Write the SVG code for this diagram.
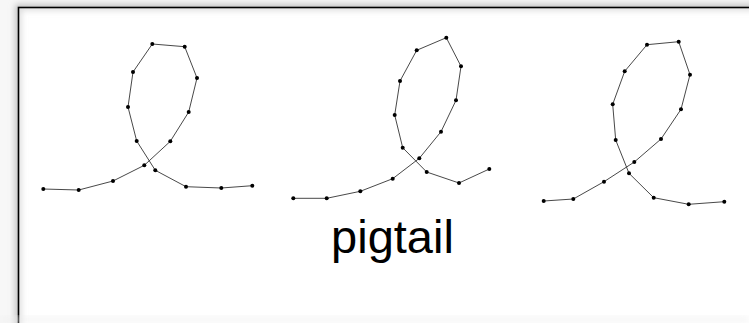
<svg xmlns="http://www.w3.org/2000/svg" width="749" height="323" viewBox="0 0 749 323">
  <defs>
    <filter id="soft" x="-10%" y="-10%" width="120%" height="120%">
      <feGaussianBlur stdDeviation="3"/>
    </filter>
    <style>
      .curve { fill: none; stroke: #333; stroke-width: 0.9; stroke-linejoin: round; }
      .pt { fill: #000; }
      .label { font-family: "Liberation Sans", Arial, sans-serif; font-size: 47px; fill: #000; text-anchor: middle; }
    </style>
  </defs>

  <!-- page backdrop and framed panel -->
  <rect x="0" y="0" width="749" height="323" fill="#f7f7f7"/>
  <rect x="18.5" y="7.5" width="760" height="340" fill="none" stroke="#bbb" stroke-width="6" filter="url(#soft)"/>
  <rect x="18.5" y="7.5" width="760" height="340" fill="#fff"/>
  <rect x="18.5" y="7.5" width="760" height="340" fill="none" stroke="#ccc" stroke-width="4" filter="url(#soft)" clip-path="inset(0)"/>
  <rect x="18.5" y="7.5" width="760" height="340" fill="none" stroke="#000" stroke-width="1.6"/>
  <rect x="0" y="316" width="749" height="7" fill="#eee" opacity="0.5" filter="url(#soft)"/>

  <g id="connectors">
    <polyline class="curve" points="43.3,189 78.7,190 113,181 144.3,165.3 170.3,141.3 188.7,112 197,78 184.7,46.7 152.3,44 133,72 128,107 136.7,141 155.3,170.3 186,186.7 221.3,188 252.3,185.7"/>
    <polyline class="curve" points="293.3,198.3 326.7,198.3 360.3,191.3 392.7,178.7 419.3,158.3 441,131.7 456,100.3 461,66.3 446.3,37.7 416.7,50.3 400,81 394.7,115 402.7,147.7 426.7,172 459,183 489.3,169"/>
    <polyline class="curve" points="543.7,201 573.3,199 604,181.7 634.3,162 661,139 681,109.3 690,74.7 678.7,41.7 647,44.7 624.7,71.3 612.7,104.3 615.7,140 629,173.3 653.7,197.7 688.7,204.3 724.3,201.7"/>
  </g>

  <g id="pigtail-1">
    <circle class="pt" cx="43.3" cy="189" r="2"/><circle class="pt" cx="78.7" cy="190" r="2"/><circle class="pt" cx="113" cy="181" r="2"/><circle class="pt" cx="144.3" cy="165.3" r="2"/><circle class="pt" cx="170.3" cy="141.3" r="2"/><circle class="pt" cx="188.7" cy="112" r="2"/><circle class="pt" cx="197" cy="78" r="2"/><circle class="pt" cx="184.7" cy="46.7" r="2"/><circle class="pt" cx="152.3" cy="44" r="2"/><circle class="pt" cx="133" cy="72" r="2"/><circle class="pt" cx="128" cy="107" r="2"/><circle class="pt" cx="136.7" cy="141" r="2"/><circle class="pt" cx="155.3" cy="170.3" r="2"/><circle class="pt" cx="186" cy="186.7" r="2"/><circle class="pt" cx="221.3" cy="188" r="2"/><circle class="pt" cx="252.3" cy="185.7" r="2"/>
  </g>

  <g id="pigtail-2">
    <circle class="pt" cx="293.3" cy="198.3" r="2"/><circle class="pt" cx="326.7" cy="198.3" r="2"/><circle class="pt" cx="360.3" cy="191.3" r="2"/><circle class="pt" cx="392.7" cy="178.7" r="2"/><circle class="pt" cx="419.3" cy="158.3" r="2"/><circle class="pt" cx="441" cy="131.7" r="2"/><circle class="pt" cx="456" cy="100.3" r="2"/><circle class="pt" cx="461" cy="66.3" r="2"/><circle class="pt" cx="446.3" cy="37.7" r="2"/><circle class="pt" cx="416.7" cy="50.3" r="2"/><circle class="pt" cx="400" cy="81" r="2"/><circle class="pt" cx="394.7" cy="115" r="2"/><circle class="pt" cx="402.7" cy="147.7" r="2"/><circle class="pt" cx="426.7" cy="172" r="2"/><circle class="pt" cx="459" cy="183" r="2"/><circle class="pt" cx="489.3" cy="169" r="2"/>
  </g>

  <g id="pigtail-3">
    <circle class="pt" cx="543.7" cy="201" r="2"/><circle class="pt" cx="573.3" cy="199" r="2"/><circle class="pt" cx="604" cy="181.7" r="2"/><circle class="pt" cx="634.3" cy="162" r="2"/><circle class="pt" cx="661" cy="139" r="2"/><circle class="pt" cx="681" cy="109.3" r="2"/><circle class="pt" cx="690" cy="74.7" r="2"/><circle class="pt" cx="678.7" cy="41.7" r="2"/><circle class="pt" cx="647" cy="44.7" r="2"/><circle class="pt" cx="624.7" cy="71.3" r="2"/><circle class="pt" cx="612.7" cy="104.3" r="2"/><circle class="pt" cx="615.7" cy="140" r="2"/><circle class="pt" cx="629" cy="173.3" r="2"/><circle class="pt" cx="653.7" cy="197.7" r="2"/><circle class="pt" cx="688.7" cy="204.3" r="2"/><circle class="pt" cx="724.3" cy="201.7" r="2"/>
  </g>

  <g id="caption">
    <text class="label" x="392.5" y="253">pigtail</text>
  </g>
</svg>
